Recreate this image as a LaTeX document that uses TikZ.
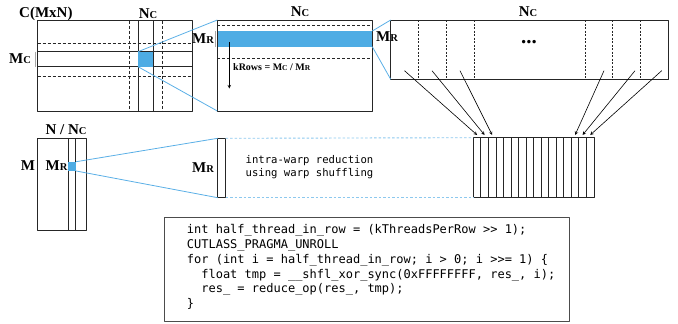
\documentclass[tikz,border=0pt]{standalone}
\usepackage{fontspec}
\setmainfont{Liberation Serif}
\newfontfamily\codefont{DejaVu Sans Mono}
\usetikzlibrary{arrows.meta}
\definecolor{tileblue}{RGB}{78,172,228}
\definecolor{lineblue}{RGB}{90,175,230}
\definecolor{dotblue}{RGB}{140,200,238}
\newcommand{\smallc}[1]{{\fontsize{10.5}{10}\selectfont #1}}
\newcommand{\tinyc}[1]{{\fontsize{7.5}{8}\selectfont #1}}
\tikzset{
	frame/.style={draw=black!85,line width=0.8pt},
	cut/.style={draw=black!85,line width=0.7pt,dash pattern=on 3pt off 2pt},
	zoomline/.style={draw=lineblue,line width=0.8pt},
	dotline/.style={draw=dotblue,line width=0.9pt,dash pattern=on 2.5pt off 2pt},
	sizebar/.style={draw=black!35,line width=0.5pt},
	lbl/.style={font=\fontsize{15}{15}\selectfont\bfseries,inner sep=0pt},
}
\begin{document}
\begin{tikzpicture}[x=1pt,y=-1pt,line join=round,>=stealth]
				\useasboundingbox (0,0) rectangle (678,324);
				% matrix C
				\draw[cut] (129,20.7)-- (129,111);
				\draw[cut] (162,20.7)-- (162,111);
				\draw[cut] (37.7,43.3)-- (192,43.3);
				\draw[cut] (37.7,76.7)-- (192,76.7);
				\draw[frame] (37.7,20.7) rectangle (192,111);
				\draw[frame] (138,20.7) rectangle (153,111);
				\draw[frame] (37.7,51.7) rectangle (192,66.7);
				\fill[tileblue] (138,51.7) rectangle (153,66.7);
				\coordinate (tileA) at (138,51.7);
				\coordinate (tileB) at (138,66.7);
				\draw[sizebar] (35.7,51.7)-- (35.7,66.7);
				\node[lbl,anchor=west] (cname) at (19,14) {C(MxN)};
				\node[lbl] (nc1) at (148,14) {N\smallc{C}};
				\node[lbl] (mc1) at (20,59) {M\smallc{C}};
				% block of C
				\draw[cut] (217.3,25)-- (372.3,25);
				\draw[cut] (217.3,58.3)-- (372.3,58.3);
				\fill[tileblue] (217.3,31) rectangle (372.3,46.7);
				\draw[frame] (217.3,20) rectangle (372.3,111);
				\coordinate (blkA) at (217.3,20);
				\coordinate (blkB) at (217.3,111);
				\coordinate (rowA) at (372.3,31);
				\coordinate (rowB) at (372.3,46.7);
				\draw[sizebar] (215.3,31)-- (215.3,46.7);
				\node[lbl] (mr1) at (203,39) {M\smallc{R}};
				\node[lbl] (nc2) at (300,12) {N\smallc{C}};
				\coordinate (kTop) at (229.3,42);
				\coordinate (kEnd) at (229.3,88.5);
				\draw[->,line width=0.6pt] (kTop)-- (kEnd);
				\node[anchor=west,inner sep=0pt,font=\fontsize{10}{10}\selectfont\bfseries] (krows) at (233,67.5) {kRows = M\tinyc{C} / M\tinyc{R}};
				\draw[zoomline] (tileA)-- (blkA);
				\draw[zoomline] (tileB)-- (blkB);
				% one row of the block
				\draw[frame] (390.7,20) rectangle (668.3,79.3);
				\foreach \x in {418.3,446,474,585,612.7,640.7}
					\draw[cut,dash pattern=on 2pt off 1.5pt] (\x,20)-- (\x,79.3);
				\coordinate (rowC) at (390.7,20);
				\coordinate (rowD) at (390.7,79.3);
				\draw[zoomline] (rowA)-- (rowC);
				\draw[zoomline] (rowB)-- (rowD);
				\node[lbl] (mr2) at (387,37) {M\smallc{R}};
				\node[lbl] (nc3) at (528,12) {N\smallc{C}};
				\node[font=\fontsize{21}{21}\selectfont\bfseries] (dots) at (529,42) {...};
				% matrix M x N/Nc
				\draw[frame] (37.7,138.3) rectangle (86.7,230);
				\draw[frame] (68,138.3) rectangle (75.7,230);
				\fill[tileblue] (68,161.7) rectangle (76.2,171);
				\coordinate (tileC) at (76.2,161.7);
				\coordinate (tileD) at (76.2,171);
				\node[lbl] (nnc) at (66,130) {N / N\smallc{C}};
				\node[lbl] (mfull) at (28,166) {M};
				\node[lbl] (mr3) at (56.5,166) {M\smallc{R}};
				% warp column
				\draw[frame] (217.7,138.3) rectangle (225.7,197.7);
				\coordinate (colA) at (217.7,138.3);
				\coordinate (colB) at (217.7,197.7);
				\coordinate (colC) at (225.7,138.3);
				\coordinate (colD) at (225.7,197.7);
				\node[lbl] (mr4) at (203,168) {M\smallc{R}};
				\draw[zoomline] (tileC)-- (colA);
				\draw[zoomline] (tileD)-- (colB);
				% lanes of the warp
				\foreach \i in {0,...,15}
					\draw[frame] (473.3+\i*7.54,137.7) rectangle (473.3+\i*7.54+7.54,197.7);
				\coordinate (laneA) at (473.3,137.7);
				\coordinate (laneB) at (473.3,197.7);
				\draw[dotline] (colC)-- (laneA);
				\draw[dotline] (colD)-- (laneB);
				\node[anchor=west,inner sep=0pt,align=left,font=\codefont\fontsize{10.6}{13.3}\selectfont] (shfl) at (245.5,167.3) {intra-warp reduction\\using warp shuffling};
				% arrows from the row cells to the lanes
				\foreach \s/\e in {404.5/477.1,432/484.6,460/492.2,604/575.1,635/582.6,661.7/590.2}
					\draw[->,line width=0.6pt] (\s,70.7)-- (\e,135);
				% code
				\draw[frame,draw=black!70] (164,217.7) rectangle (569.3,321.7);
				\node[anchor=north west,inner sep=0pt,align=left,font=\codefont\fontsize{12}{14.9}\selectfont] (code) at (186.7,224) {int half\_thread\_in\_row = (kThreadsPerRow >> 1);\\
CUTLASS\_PRAGMA\_UNROLL\\
for (int i = half\_thread\_in\_row; i > 0; i >>= 1) \{\\
\ \ float tmp = \_\_shfl\_xor\_sync(0xFFFFFFFF, res\_, i);\\
\ \ res\_ = reduce\_op(res\_, tmp);\\
\}};
			\end{tikzpicture}
\end{document}
